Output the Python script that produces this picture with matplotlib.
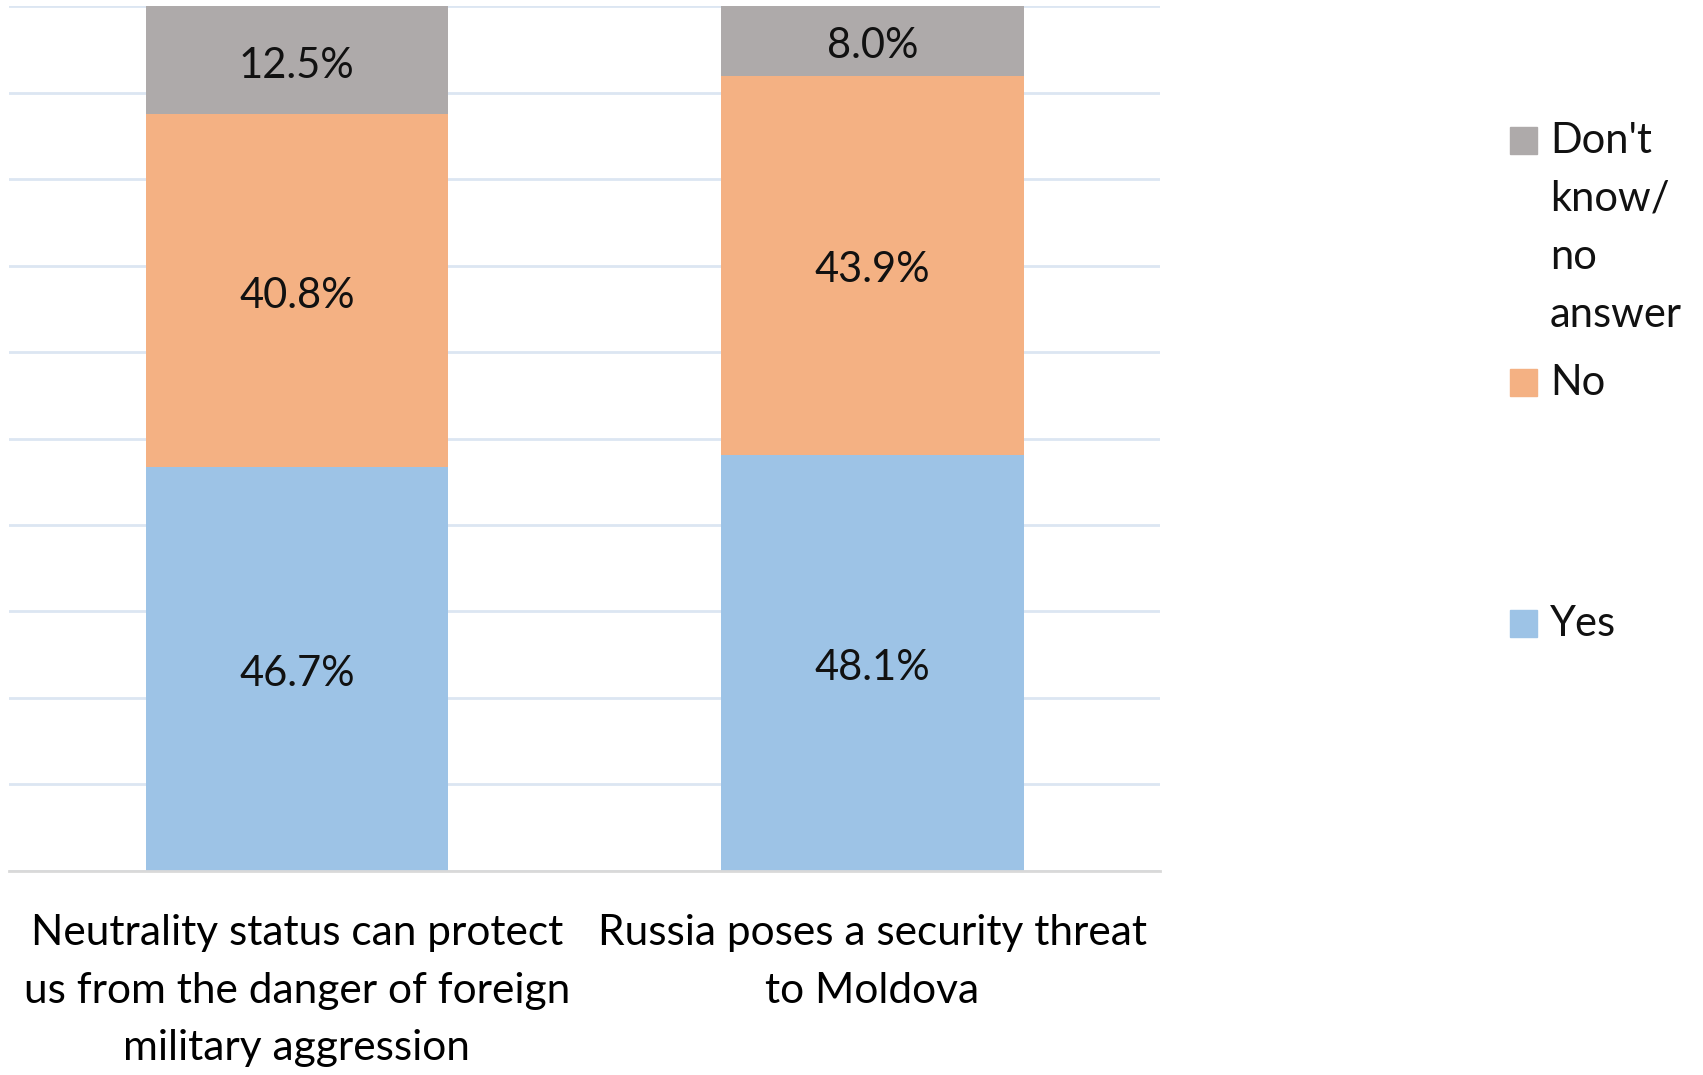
import matplotlib.pyplot as plt
from matplotlib.patches import Rectangle

categories = ['Neutrality status can protect\nus from the danger of foreign\nmilitary aggression',
              'Russia poses a security threat\nto Moldova']
yes = [46.7, 48.1]
no = [40.8, 43.9]
dont_know = [12.5, 8.0]

series = [('Yes', yes, '#9DC3E6'), ('No', no, '#F4B183'), ("Don't\nknow/\nno\nanswer", dont_know, '#AEAAAA')]

plt.rcParams['font.family'] = ['Lato', 'DejaVu Sans']

fig = plt.figure(figsize=(17.03, 10.75), dpi=100)
ax = fig.add_axes([0.0053, 0.19, 0.676, 0.804])

x = list(range(len(categories)))
bottom = [0, 0]
for name, vals, color in series:
    ax.bar(x, vals, width=0.525, bottom=bottom, color=color, zorder=2)
    for xi, b, v in zip(x, bottom, vals):
        ax.text(xi, b + v / 2 - 0.6, f'{v:.1f}%', ha='center', va='center', fontsize=30,
                color='#111111', zorder=3)
    bottom = [b + v for b, v in zip(bottom, vals)]

ax.set_xlim(-0.5, 1.5)
ax.set_ylim(0, 100)
ax.set_yticks(range(0, 101, 10))
ax.yaxis.grid(True, color='#DCE6F2', linewidth=2, zorder=0)
ax.tick_params(axis='y', left=False, labelleft=False)
ax.tick_params(axis='x', bottom=False, pad=28)
ax.set_xticks(x)
ax.set_xticklabels(categories, fontsize=30.5, linespacing=1.62)
for s in ['top', 'right', 'left']:
    ax.spines[s].set_visible(False)
ax.spines['bottom'].set_color('#D9D9D9')
ax.spines['bottom'].set_linewidth(2)

# legend drawn by hand to keep Excel's spacing
legend_pos = [("Don't\nknow/\nno\nanswer", '#AEAAAA', 1 - 147 / 1075),
              ('No', '#F4B183', 1 - 389 / 1075),
              ('Yes', '#9DC3E6', 1 - 630 / 1075)]
for label, color, yy in legend_pos:
    fig.patches.append(Rectangle((1510 / 1703, yy - 7 / 1075), 27 / 1703, 27 / 1075,
                                 transform=fig.transFigure, color=color))
    fig.text(1550 / 1703, yy + 25 / 1075, label, ha='left', va='top', fontsize=30,
             linespacing=1.64, color='#111111')

fig.savefig('out.png', dpi=100)
